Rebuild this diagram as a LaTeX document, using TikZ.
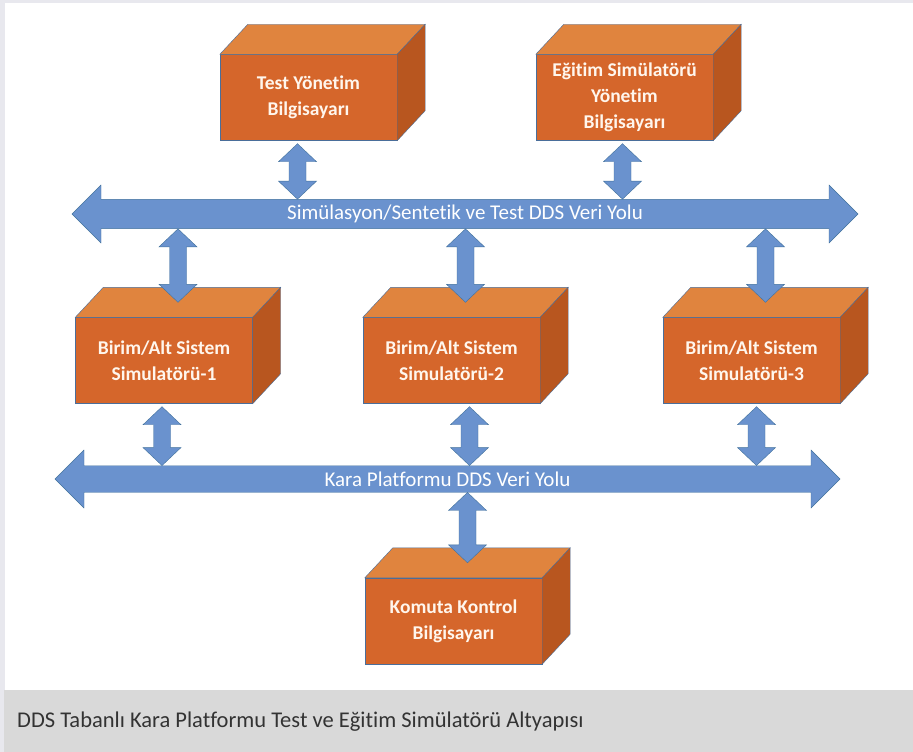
\documentclass[tikz,border=0pt]{standalone}
\usepackage{fontspec}
\setmainfont{Carlito}[Ligatures=NoCommon]
\usepackage{tikz}
\usetikzlibrary{shapes.arrows,calc}

\definecolor{boxfront}{HTML}{D5662B}
\definecolor{boxtop}{HTML}{E0843E}
\definecolor{boxside}{HTML}{B8561F}
\definecolor{boxedge}{HTML}{4A6E9A}
\definecolor{linkfill}{HTML}{6A92CE}
\definecolor{linkedge}{HTML}{41719C}
\definecolor{capband}{HTML}{D9D9D9}
\definecolor{frameside}{HTML}{E8E8EE}
\definecolor{captext}{HTML}{333333}

\newcommand{\cuboidfaces}[1]{%
  \draw[boxedge, fill=boxtop] (#1.north west) -- ++(28,-30) -- ($(#1.north east)+(28,-30)$) -- (#1.north east) -- cycle;
  \draw[boxedge, fill=boxside] (#1.north east) -- ++(28,-30) -- ($(#1.south east)+(28,-30)$) -- (#1.south east) -- cycle;
  \coordinate (#1top) at ($(#1.north)+(14,-15)$);
}
\newcommand{\vlink}[2]{%
  \draw[linkedge, fill=linkfill] let \p1=#1, \p2=#2 in
    (\x1,\y1) -- ({\x1+19pt},{\y1-18pt}) -- ({\x1+8.5pt},{\y1-18pt}) -- ({\x1+8.5pt},{\y2+18pt})
    -- ({\x1+19pt},{\y2+18pt}) -- (\x1,\y2) -- ({\x1-19pt},{\y2+18pt}) -- ({\x1-8.5pt},{\y2+18pt})
    -- ({\x1-8.5pt},{\y1-18pt}) -- ({\x1-19pt},{\y1-18pt}) -- cycle;
}

\begin{document}
\begin{tikzpicture}[x=1pt, y=-1pt,
    front/.style={draw=boxedge, fill=boxfront, text=white!93!orange, align=center, inner sep=0pt,
      minimum width=177pt, minimum height=86pt, font=\bfseries\fontsize{19.5}{26}\selectfont},
    bus/.style={double arrow, double arrow head extend=9pt, double arrow tip angle=90,
      draw=linkedge, fill=linkfill, minimum width=58pt, inner sep=0pt, text=white,
      font=\fontsize{21}{24}\selectfont}]
  \useasboundingbox (0,0) rectangle (913,752);
  \fill[frameside] (0,0) rectangle (913,752);
  \fill[white] (5,3) rectangle (913,690);
  \fill[capband] (4,690) rectangle (913,752);

  \node[front] (t1) at (308.5,97.5) {Test Yönetim\\Bilgisayarı};
  \cuboidfaces{t1}
  \node[front] (t2) at (624.5,97.5) {Eğitim Simülatörü\\Yönetim\\Bilgisayarı};
  \cuboidfaces{t2}
  \node[front] (b3) at (164,360.5) {Birim/Alt Sistem\\Simulatörü-1};
  \cuboidfaces{b3}
  \node[front] (b4) at (451.5,360.5) {Birim/Alt Sistem\\Simulatörü-2};
  \cuboidfaces{b4}
  \node[front] (b5) at (751.5,360.5) {Birim/Alt Sistem\\Simulatörü-3};
  \cuboidfaces{b5}
  \node[front] (b6) at (453.5,621) {Komuta Kontrol\\Bilgisayarı};
  \cuboidfaces{b6}

  \node[bus, minimum height=786pt] (bus1) at (465,214) {Simülasyon/Sentetik ve Test DDS Veri Yolu};
  \node[bus, minimum height=785pt] (bus2) at (447.5,479) {Kara Platformu DDS Veri Yolu};

  \vlink{($(t1.south)+(-11,3)$)}{(bus1.north)}
  \vlink{($(t2.south)+(-2,3)$)}{(bus1.north)}
  \vlink{(bus1.south -| b3top)}{(b3top)}
  \vlink{(bus1.south -| b4top)}{(b4top)}
  \vlink{(bus1.south -| b5top)}{(b5top)}
  \vlink{($(b3.south)+(-2,3)$)}{(bus2.north)}
  \vlink{($(b4.south)+(18,3)$)}{(bus2.north)}
  \vlink{($(b5.south)+(5,3)$)}{(bus2.north)}
  \vlink{(bus2.south -| b6top)}{(b6top)}

  \node[anchor=base west, inner sep=0pt, text=captext, font=\fontsize{22.5}{26}\selectfont] (cap) at (17,727)
    {DDS Tabanlı Kara Platformu Test ve Eğitim Simülatörü Altyapısı};
\end{tikzpicture}
\end{document}
